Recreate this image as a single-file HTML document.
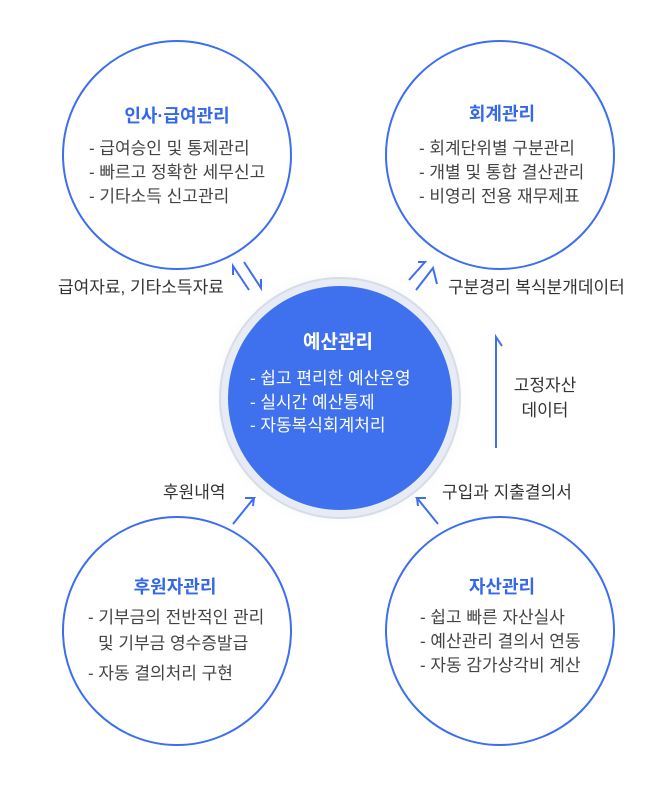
<!DOCTYPE html>
<html><head><meta charset="utf-8"><style>
html,body{margin:0;padding:0;background:#fff;}
svg{display:block;}
text{font-family:"Liberation Sans","Noto Sans CJK KR",sans-serif;}
.t{font-size:18px;font-weight:bold;fill:#3568e8;}
.l{font-size:17px;fill:#444;}
.c{font-size:17px;fill:#333;}
</style></head><body>
<svg width="672" height="786" viewBox="0 0 672 786" xmlns="http://www.w3.org/2000/svg">
<defs>
<radialGradient id="g" cx="50%" cy="50%" r="50%">
<stop offset="80%" stop-color="#eef1f8"/><stop offset="100%" stop-color="#ffffff" stop-opacity="0"/>
</radialGradient>
</defs>
<g fill="#fff" stroke="#3d6ef0" stroke-width="2">
<circle cx="177" cy="155" r="114"/>
<circle cx="500" cy="155" r="114"/>
<circle cx="177" cy="631" r="114"/>
<circle cx="500" cy="631" r="114"/>
</g>
<circle cx="340" cy="398" r="134" fill="url(#g)"/>
<circle cx="340" cy="398" r="120" fill="#e6ebf6" stroke="#d8dce4" stroke-width="2"/>
<circle cx="340" cy="398" r="112" fill="#3f70ee"/>
<text x="338" y="348" text-anchor="middle" font-size="19" font-weight="bold" fill="#fff">예산관리</text>
<g font-size="17" fill="#fff">
<text x="250" y="384">- 쉽고 편리한 예산운영</text>
<text x="250" y="408">- 실시간 예산통제</text>
<text x="250" y="431">- 자동복식회계처리</text>
</g>
<text class="t" x="177" y="122" text-anchor="middle">인사·급여관리</text>
<text class="l" x="89" y="154">- 급여승인 및 통제관리</text>
<text class="l" x="89" y="178">- 빠르고 정확한 세무신고</text>
<text class="l" x="89" y="202">- 기타소득 신고관리</text>
<text class="t" x="502" y="120" text-anchor="middle">회계관리</text>
<text class="l" x="419" y="154">- 회계단위별 구분관리</text>
<text class="l" x="419" y="178">- 개별 및 통합 결산관리</text>
<text class="l" x="419" y="202">- 비영리 전용 재무제표</text>
<text class="t" x="175" y="593" text-anchor="middle">후원자관리</text>
<text class="l" x="88" y="623">- 기부금의 전반적인 관리</text>
<text class="l" x="98" y="649">및 기부금 영수증발급</text>
<text class="l" x="88" y="679">- 자동 결의처리 구현</text>
<text class="t" x="502" y="593" text-anchor="middle">자산관리</text>
<text class="l" x="420" y="623">- 쉽고 빠른 자산실사</text>
<text class="l" x="420" y="647">- 예산관리 결의서 연동</text>
<text class="l" x="420" y="671">- 자동 감가상각비 계산</text>
<text class="c" x="58" y="293">급여자료, 기타소득자료</text>
<text class="c" x="448" y="293">구분경리 복식분개데이터</text>
<text class="c" x="545" y="391" text-anchor="middle">고정자산</text>
<text class="c" x="545" y="416" text-anchor="middle">데이터</text>
<text class="c" x="163" y="498">후원내역</text>
<text class="c" x="442" y="498">구입과 지출결의서</text>
<g stroke="#3d6ef0" stroke-width="2" fill="none">
<polyline points="249,290 233,266 233,275"/>
<polyline points="244,262 261,288 261,279"/>
<polyline points="409,280 425,262 418,262"/>
<polyline points="416,290 433,268 437,284"/>
<polyline points="496,448 496,337 502,346"/>
<polyline points="233,524 254,498 245,498"/>
<polyline points="254,498 253,506"/>
<polyline points="438,524 417,498 426,498"/>
<polyline points="417,498 418,506"/>
</g>
</svg>
</body></html>
